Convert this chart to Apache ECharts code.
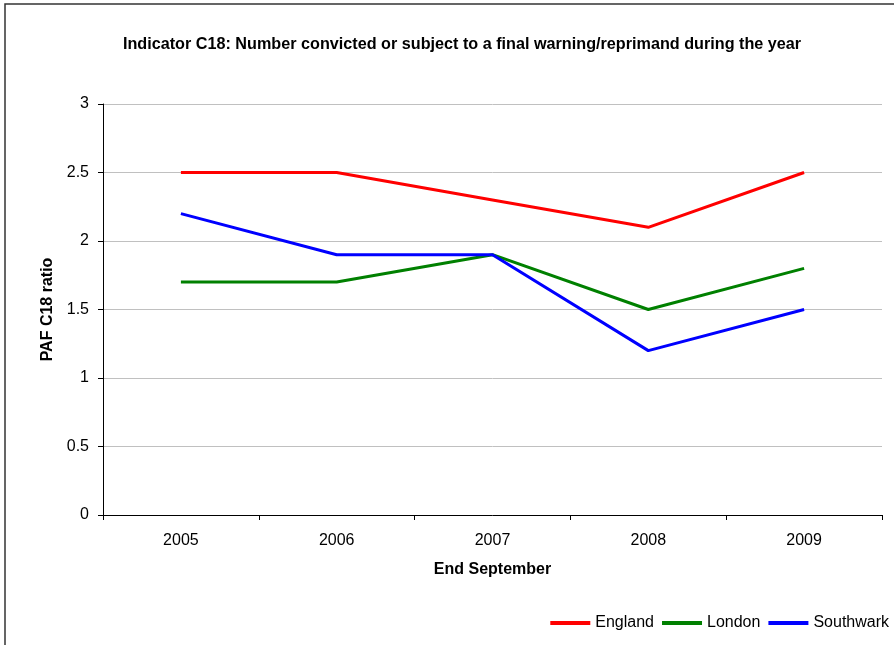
<!DOCTYPE html>
<html><head><meta charset="utf-8">
<script src="https://cdn.jsdelivr.net/npm/echarts@6/dist/echarts.min.js"></script>
<style>html,body{margin:0;padding:0;background:#fff}#c{width:894px;height:645px}</style>
</head><body><div id="c"></div>
<script>
const categories = ['2005','2006','2007','2008','2009'];
const england = [2.5, 2.5, 2.3, 2.1, 2.5];
const london = [1.7, 1.7, 1.9, 1.5, 1.8];
const southwark = [2.2, 1.9, 1.9, 1.2, 1.5];
const FONT = '"Liberation Sans", Arial, sans-serif';
const chart = echarts.init(document.getElementById('c'));
function s(name, data, color) {
  return { name, type: 'line', data, symbol: 'none', lineStyle: { color, width: 3 }, itemStyle: { color }, animation: false };
}
chart.setOption({
  animation: false,
  textStyle: { fontFamily: FONT },
  graphic: [{ type: 'rect', shape: { x: 5, y: 4, width: 1000, height: 1000 }, style: { fill: 'none', stroke: '#333', lineWidth: 1.5 }, silent: true }],
  title: { text: 'Indicator C18: Number convicted or subject to a final warning/reprimand during the year', left: 457, textAlign: 'center', top: 32,
    textStyle: { fontFamily: FONT, fontSize: 16.2, fontWeight: 'bold', color: '#000' } },
  grid: { left: 103, right: 12, top: 104, bottom: 130, containLabel: false },
  legend: { right: 0, top: 610, icon: 'rect', itemWidth: 40, itemHeight: 4, itemGap: 8,
    textStyle: { fontFamily: FONT, fontSize: 16, color: '#000' },
    data: ['England','London','Southwark'] },
  xAxis: { type: 'category', data: categories, boundaryGap: true,
    name: 'End September', nameLocation: 'middle', nameGap: 47,
    nameTextStyle: { fontFamily: FONT, fontSize: 16, fontWeight: 'bold', color: '#000' },
    axisLine: { lineStyle: { color: '#000', width: 1 } },
    axisTick: { show: true, length: 5, lineStyle: { color: '#000' } },
    axisLabel: { fontFamily: FONT, fontSize: 16, color: '#000', margin: 18 } },
  yAxis: { type: 'value', min: 0, max: 3, interval: 0.5,
    name: 'PAF C18 ratio', nameLocation: 'middle', nameGap: 46, nameRotate: 90,
    nameTextStyle: { fontFamily: FONT, fontSize: 16, fontWeight: 'bold', color: '#000' },
    axisLine: { show: true, lineStyle: { color: '#000', width: 1 } },
    axisTick: { show: true, length: 5, lineStyle: { color: '#000' } },
    splitLine: { lineStyle: { color: '#c0c0c0', width: 1 } },
    axisLabel: { fontFamily: FONT, fontSize: 16, color: '#000', margin: 14 } },
  series: [s('England', england, '#ff0000'), s('London', london, '#008000'), s('Southwark', southwark, '#0000ff')]
});
</script></body></html>
